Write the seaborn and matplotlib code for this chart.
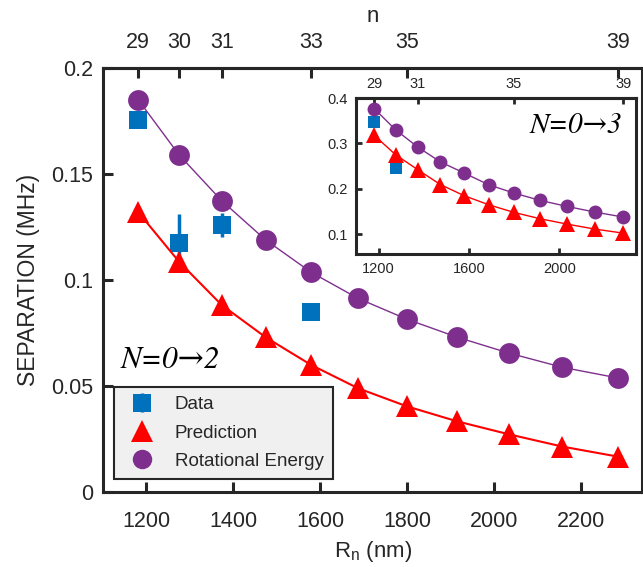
import numpy as np
import pandas as pd
import seaborn as sns
import matplotlib.pyplot as plt
from matplotlib.lines import Line2D

# Rydberg levels n and the matching radius R_n (nm)
n_levels = [29, 30, 31, 32, 33, 34, 35, 36, 37, 38, 39]
R_nm = [1181, 1275, 1373, 1474, 1579, 1687, 1799, 1915, 2034, 2157, 2284]

# main panel: N=0->2
rot_02 = [0.185, 0.159, 0.1374, 0.1189, 0.1036, 0.0913, 0.0815, 0.0730, 0.0655, 0.0588, 0.0538]
pred_02 = [0.132, 0.1086, 0.0882, 0.0730, 0.0599, 0.0489, 0.0404, 0.0333, 0.0272, 0.0214, 0.0167]
data_R = [1181, 1275, 1373, 1579]
data_02 = [0.1755, 0.1176, 0.126, 0.0848]
data_02_err = [0.0, 0.0136, 0.0055, 0.0]

# inset: N=0->3
rot_03 = [0.3765, 0.330, 0.292, 0.259, 0.2346, 0.2088, 0.1904, 0.1743, 0.161, 0.1485, 0.1375]
pred_03 = [0.3176, 0.275, 0.242, 0.209, 0.1846, 0.1647, 0.1478, 0.1338, 0.122, 0.111, 0.102]
data_R3 = [1181, 1275]
data_03 = [0.347, 0.2456]

top_n = [29, 30, 31, 33, 35, 39]
inset_top_n = [29, 31, 35, 39]

blue = '#0072BD'
red = '#FF0000'
purple = '#7E2F8E'
dark = '#262626'

sns.set_style("ticks")
plt.rcParams['font.family'] = ['Liberation Sans', 'DejaVu Sans']
plt.rcParams['mathtext.fontset'] = 'custom'
plt.rcParams['mathtext.rm'] = 'Liberation Sans'
plt.rcParams['axes.edgecolor'] = dark
plt.rcParams['axes.linewidth'] = 2.2

R_of_n = dict(zip(n_levels, R_nm))
# STIX italic has no arrow glyph, so the arrow comes from DejaVu Serif
serif = ['STIXGeneral', 'DejaVu Serif']

fig = plt.figure(figsize=(6.43, 5.67), dpi=100)
ax = fig.add_axes([0.1602, 0.1323, 0.8383, 0.7478])

ax.errorbar(data_R, data_02, yerr=data_02_err, fmt='s', ms=13, color=blue,
            elinewidth=2.5, capsize=0, mew=0, zorder=3)
sns.lineplot(x=R_nm, y=pred_02, ax=ax, color=red, lw=1.5, marker='^', ms=16,
             mec=red, mew=0, zorder=4)
sns.lineplot(x=R_nm, y=rot_02, ax=ax, color=purple, lw=1.0, marker='o', ms=15,
             mec=purple, mew=0, zorder=5)

ax.set_xlim(1100, 2340)
ax.set_ylim(0, 0.2)
ax.set_xticks([1200, 1400, 1600, 1800, 2000, 2200])
ax.set_yticks([0, 0.05, 0.1, 0.15, 0.2])
ax.set_yticklabels(['0', '0.05', '0.1', '0.15', '0.2'])
ax.tick_params(direction='in', length=7, width=2.2, labelsize=15.5,
               colors=dark, top=False, right=False)
ax.tick_params(axis='x', pad=14)
ax.tick_params(axis='y', pad=7)
ax.set_xlabel(r'R$_\mathrm{n}$ (nm)', fontsize=16, color=dark, labelpad=5)
ax.set_ylabel('SEPARATION (MHz)', fontsize=16.5, color=dark, labelpad=8)

top = ax.secondary_xaxis('top')
top.set_xticks([R_of_n[k] for k in top_n])
top.set_xticklabels([str(k) for k in top_n])
top.tick_params(direction='in', length=7, width=2.2, labelsize=15.5,
                colors=dark, pad=11)
top.set_xlabel('n', fontsize=16, color=dark, labelpad=7)

ax.text(0.032, 0.292, 'N=0\u21922', transform=ax.transAxes, fontsize=22.5,
        style='italic', family=serif, va='baseline', ha='left', color='black')

h_data = ax.containers[0]
h_pred = Line2D([], [], ls='none', marker='^', ms=16, color=red, mew=0)
h_rot = Line2D([], [], ls='none', marker='o', ms=14, color=purple, mew=0)
leg = ax.legend([h_data, h_pred, h_rot], ['Data', 'Prediction', 'Rotational Energy'],
                loc='lower left', bbox_to_anchor=(0.02, 0.03), borderaxespad=0,
                frameon=True, fancybox=False, edgecolor=dark, facecolor='#f0f0f0',
                framealpha=1, fontsize=13.5, handlelength=2.0, handletextpad=0.75,
                borderpad=0.5, labelspacing=0.6)
leg.get_frame().set_linewidth(1.5)

# inset
axin = fig.add_axes([0.5537, 0.552, 0.4355, 0.2751])
axin.set_facecolor('white')
axin.plot(data_R3, data_03, ls='none', marker='s', ms=8, color=blue, mew=0, zorder=3)
sns.lineplot(x=R_nm, y=pred_03, ax=axin, color=red, lw=1.0, marker='^', ms=11,
             mec=red, mew=0, zorder=4)
sns.lineplot(x=R_nm, y=rot_03, ax=axin, color=purple, lw=1.0, marker='o', ms=10,
             mec=purple, mew=0, zorder=5)
axin.set_xlim(1100, 2340)
axin.set_ylim(0.056, 0.4)
axin.set_xticks([1200, 1600, 2000])
axin.set_yticks([0.1, 0.2, 0.3, 0.4])
axin.tick_params(direction='in', length=4, width=2.0, labelsize=10.5,
                 colors=dark, top=False, right=False, pad=6)
axin.set_xlabel('')
axin.set_ylabel('')
tin = axin.secondary_xaxis('top')
tin.set_xticks([R_of_n[k] for k in inset_top_n])
tin.set_xticklabels([str(k) for k in inset_top_n])
tin.tick_params(direction='in', length=4, width=2.0, labelsize=10.5, colors=dark, pad=5)
axin.text(0.95, 0.776, 'N=0\u21923', transform=axin.transAxes, fontsize=21,
          style='italic', family=serif, va='baseline', ha='right', color='black')

fig.savefig('out.png', dpi=100)
